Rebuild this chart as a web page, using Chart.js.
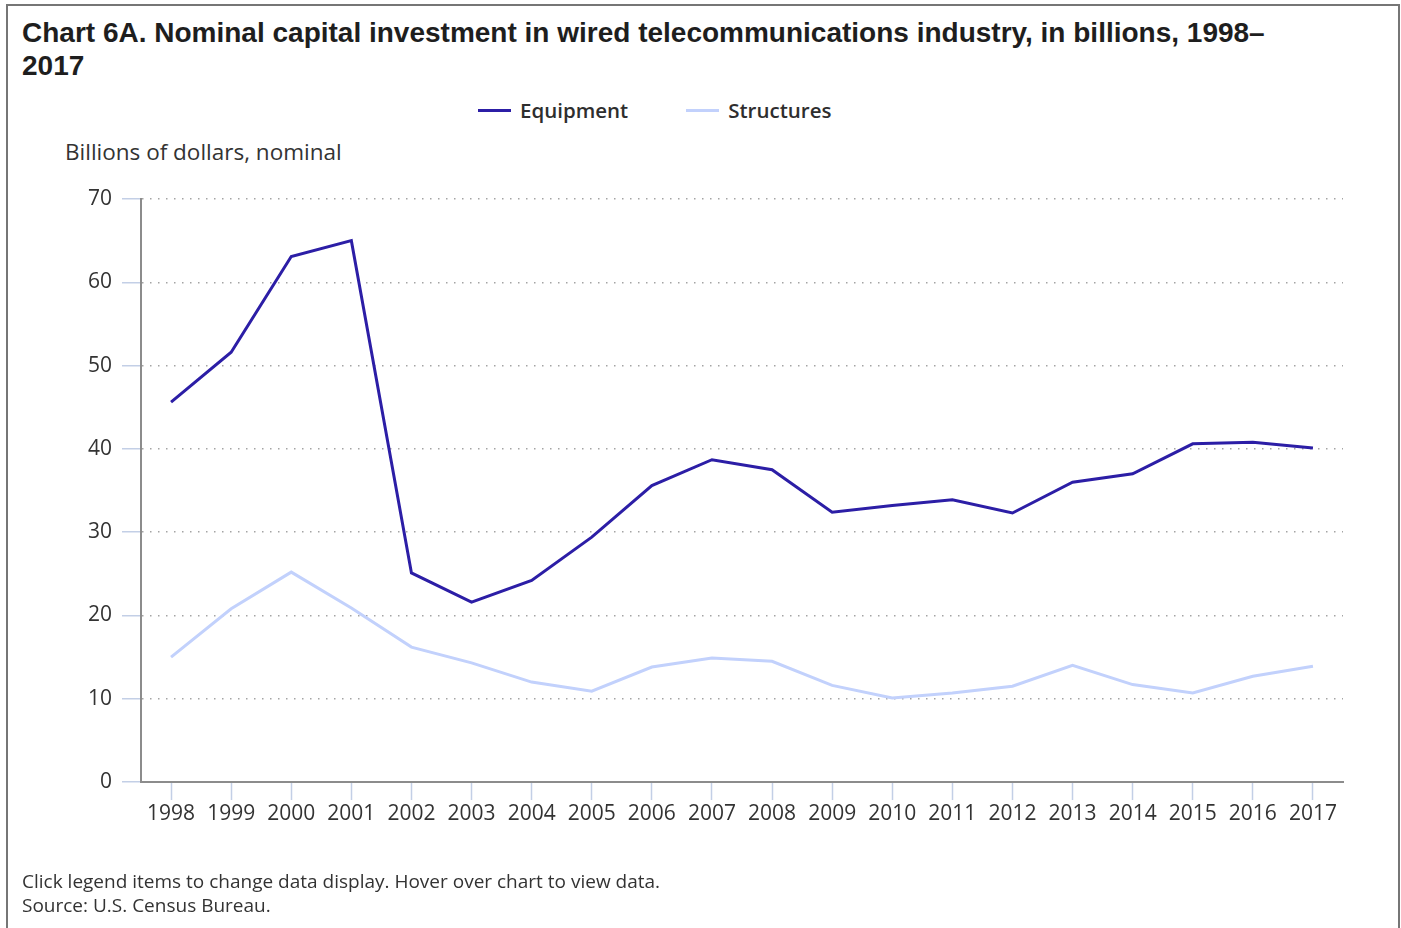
<!DOCTYPE html>
<html>
<head>
<meta charset="utf-8">
<script src="https://cdn.jsdelivr.net/npm/chart.js@4/dist/chart.umd.min.js"></script>
<style>
  html, body { margin: 0; padding: 0; background: #fff; }
  body { width: 1401px; height: 928px; position: relative; overflow: hidden; }
  #frame {
    position: absolute; left: 6px; top: 4px; width: 1390px; height: 940px;
    border: 2px solid #767676; box-sizing: content-box;
  }
  #title {
    position: absolute; left: 22px; top: 16px;
    font-family: "Liberation Sans", Arial, sans-serif; font-weight: bold;
    font-size: 28px; line-height: 33px; color: #1e1e1e;
  }
  #legend {
    position: absolute; left: 478px; top: 97px; height: 26px;
    display: flex; align-items: center;
    font-family: "Open Sans", sans-serif; font-size: 20.5px; font-weight: 600; color: #2e2e2e;
  }
  #legend .item { display: flex; align-items: center; margin-right: 58px; cursor: pointer; }
  #legend .swatch { width: 33px; height: 3px; margin-right: 9px; }
  #ylabel {
    position: absolute; left: 65px; top: 136px;
    font-family: "Open Sans", sans-serif; font-size: 22.5px; color: #333;
  }
  #notes {
    position: absolute; left: 22px; top: 869px;
    font-family: "Open Sans", sans-serif; font-size: 19px; line-height: 24px; color: #333;
  }
  #chart { position: absolute; left: 0; top: 0; }
</style>
</head>
<body>
<div id="frame"></div>
<div id="title">Chart 6A. Nominal capital investment in wired telecommunications industry, in billions, 1998–<br>2017</div>
<div id="legend"></div>
<div id="ylabel">Billions of dollars, nominal</div>
<canvas id="chart" width="1401" height="928"></canvas>
<div id="notes">Click legend items to change data display. Hover over chart to view data.<br>Source: U.S. Census Bureau.</div>
<script>
// Years on the category axis
const years = ['1998','1999','2000','2001','2002','2003','2004','2005','2006','2007',
               '2008','2009','2010','2011','2012','2013','2014','2015','2016','2017'];

// Nominal capital investment, billions of dollars
const equipment = [45.6, 51.6, 63.1, 65.0, 25.1, 21.6, 24.2, 29.4, 35.6, 38.7,
                   37.5, 32.4, 33.2, 33.9, 32.3, 36.0, 37.0, 40.6, 40.8, 40.1];
const structures = [15.0, 20.8, 25.2, 20.9, 16.2, 14.3, 12.0, 10.9, 13.8, 14.9,
                    14.5, 11.6, 10.1, 10.7, 11.5, 14.0, 11.7, 10.7, 12.7, 13.9];

// Value axis ticks
const yTicks = [0, 10, 20, 30, 40, 50, 60, 70];

const seriesNames = ['Equipment', 'Structures'];
const seriesColors = ['#2c1ea6', '#c2d1fc'];

const tickFont = { family: '"Open Sans", sans-serif', size: 21 };

const chart = new Chart(document.getElementById('chart'), {
  type: 'line',
  data: {
    labels: years,
    datasets: [
      { label: seriesNames[0], data: equipment, borderColor: seriesColors[0],
        backgroundColor: seriesColors[0], borderWidth: 3, pointRadius: 0, tension: 0 },
      { label: seriesNames[1], data: structures, borderColor: seriesColors[1],
        backgroundColor: seriesColors[1], borderWidth: 3, pointRadius: 0, tension: 0 }
    ]
  },
  options: {
    responsive: false,
    animation: false,
    layout: { padding: { left: 0, right: 58, top: 199, bottom: 0 } },
    plugins: { legend: { display: false }, title: { display: false }, tooltip: { enabled: true } },
    scales: {
      x: {
        type: 'category',
        offset: true,
        afterFit: (s) => { s.height = 146; },
        grid: {
          offset: false, drawOnChartArea: false, drawTicks: true,
          tickLength: 18, tickColor: '#c3cfe6', tickWidth: 1.5
        },
        border: { display: true, color: '#8c8c8c', width: 2 },
        ticks: { font: tickFont, color: '#333', padding: 1, maxRotation: 0, autoSkip: false }
      },
      y: {
        min: yTicks[0], max: yTicks[yTicks.length - 1],
        afterFit: (s) => { s.width = 141; },
        afterBuildTicks: (s) => { s.ticks = yTicks.map(v => ({ value: v })); },
        grid: {
          color: '#a4a4a4', lineWidth: 1.5,
          drawTicks: true, tickLength: 19, tickColor: '#c3cfe6', tickWidth: 1.5, tickBorderDash: []
        },
        // dotted horizontal grid lines
        border: { display: true, color: '#8c8c8c', width: 2, dash: [1.5, 6.5] },
        ticks: { font: tickFont, color: '#333', padding: 10 }
      }
    }
  }
});

// Legend built from the chart's own datasets
const legend = document.getElementById('legend');
chart.data.datasets.forEach((ds, i) => {
  const item = document.createElement('div');
  item.className = 'item';
  const sw = document.createElement('span');
  sw.className = 'swatch';
  sw.style.background = ds.borderColor;
  const tx = document.createElement('span');
  tx.textContent = ds.label;
  item.appendChild(sw); item.appendChild(tx);
  item.onclick = () => {
    const vis = chart.isDatasetVisible(i);
    chart.setDatasetVisibility(i, !vis);
    item.style.opacity = vis ? 0.4 : 1;
    chart.update();
  };
  legend.appendChild(item);
});
</script>
</body>
</html>
